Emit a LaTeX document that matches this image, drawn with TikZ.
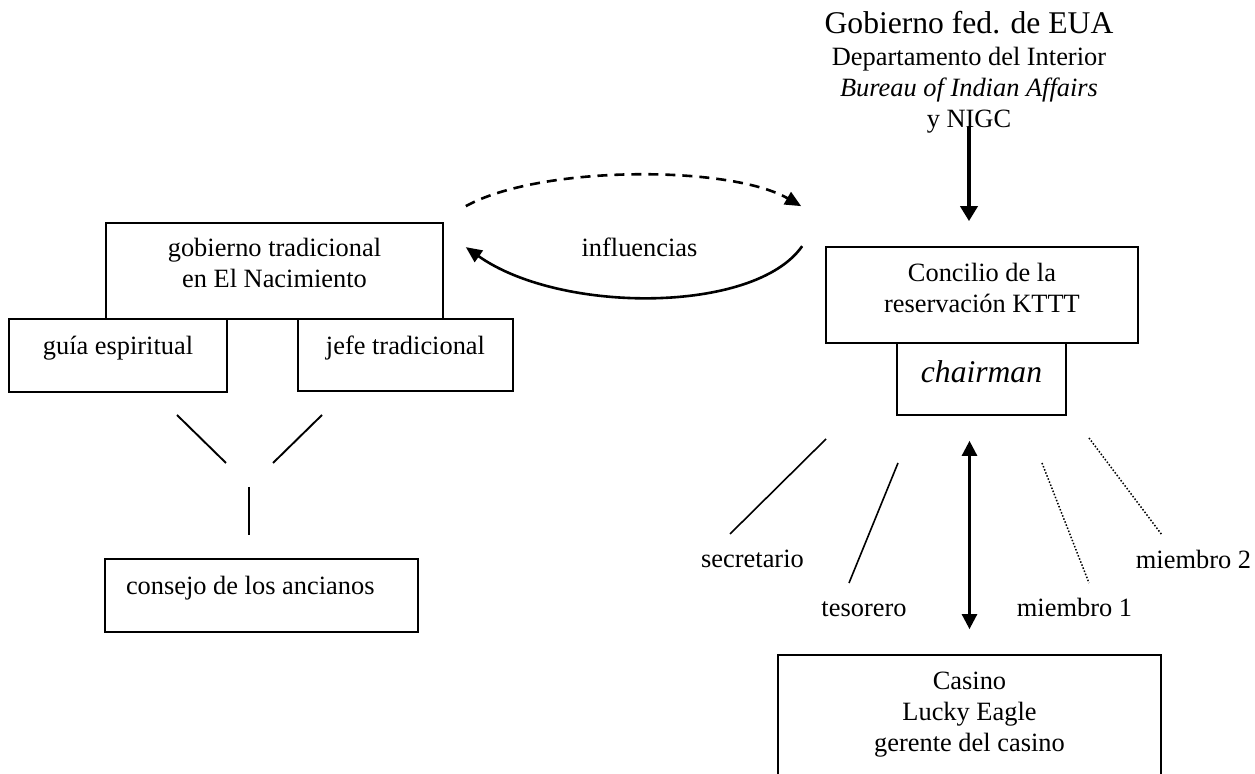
\documentclass[tikz,border=0pt]{standalone}
\usepackage{fontspec}
\setmainfont{Liberation Serif}
\usetikzlibrary{arrows.meta,calc}
% text box: [alignment]{width}{height}{first-baseline depth}{content}
\newcommand{\cellbox}[5][\centering]{\parbox[c][#3][t]{#2}{#1\rule{0pt}{#4}#5\par}}
\begin{document}
\begin{tikzpicture}[x=0.5pt,y=-0.5pt,
  every node/.style={font=\fontsize{13.2pt}{15.5pt}\selectfont, inner sep=0pt},
  big/.style={font=\fontsize{15.8pt}{18pt}\selectfont},
  box/.style={draw, line width=0.85pt, rectangle, anchor=center},
  lbl/.style={anchor=base},
  flow/.style={line width=1.3pt, -{Triangle[length=8pt,width=7pt]}},
  govarrow/.style={line width=2.3pt, -{Triangle[length=7.5pt,width=8.5pt]}},
  dblarrow/.style={line width=1.3pt, {Triangle[length=7.5pt,width=7.5pt]}-{Triangle[length=7.5pt,width=7.5pt]}},
  branch/.style={line width=0.95pt},
  office/.style={line width=0.8pt},
  member/.style={line width=0.75pt, dash pattern=on 0.75pt off 0.9pt}]

\useasboundingbox (0,0) rectangle (1255,774);
\fill[white] (0,0) rectangle (1255,774);

% federal government heading
\node[lbl,big] (fed) at (969,34) {Gobierno fed. de EUA};
\node[lbl] (interior) at (969,65.5) {Departamento del Interior};
\node[lbl] (bia) at (969,97) {\itshape Bureau of Indian Affairs};
\node[lbl] (nigc) at (969,128) {y NIGC};

% traditional government
\node[box] (gob) at (274.5,271) {\cellbox{168.5pt}{48pt}{17pt}{gobierno tradicional\\en El Nacimiento}};
\node[box] (guia) at (118,355.5) {\cellbox{109pt}{36.5pt}{18pt}{guía espiritual}};
\node[box] (jefe) at (405.5,355) {\cellbox{107.5pt}{36pt}{18pt}{jefe tradicional}};
\node[box] (consejo) at (261.5,595.5) {\cellbox[\raggedright]{156.5pt}{36.5pt}{18pt}{\hspace*{10.5pt}consejo de los ancianos}};

% reservation council
\node[box] (concilio) at (982,295) {\cellbox{156pt}{48pt}{17.5pt}{Concilio de la\\reservación KTTT}};
\node[box,big] (chair) at (981.5,379) {\cellbox{84.5pt}{36pt}{20pt}{\itshape chairman}};
\node[box] (casino) at (969.5,720) {\cellbox{191.5pt}{65pt}{17.5pt}{Casino\\Lucky Eagle\\gerente del casino}};

% mutual influences
\draw[flow, dash pattern=on 5pt off 3.5pt]
  ($(gob.north east)+(22,-16)$) .. controls (540,165) and (730,165) .. ($(concilio.north west)+(-24,-40)$);
\draw[flow]
  ($(concilio.north west)+(-23,0)$) .. controls (755,314) and (560,314) .. ($(gob.north east)+(22,25)$);
\node[lbl] (infl) at (639.5,257) {influencias};

% federal oversight
\draw[govarrow] ($(nigc.base)+(0,-1)$) -- ($(nigc.base |- concilio.north)+(0,-25)$);

% council <-> casino
\draw[dblarrow] ($(casino.north |- chair.south)+(0,25)$) -- ($(casino.north)+(0,-25)$);

% elders' council branches
\coordinate (ya1) at (177,415); \coordinate (ya2) at (226,463);
\coordinate (yb1) at (322,415); \coordinate (yb2) at (273,463);
\coordinate (yc1) at (249,487); \coordinate (yc2) at (249,535);
\draw[branch] (ya1) -- (ya2);
\draw[branch] (yb1) -- (yb2);
\draw[branch] (yc1) -- (yc2);

% council officers
\coordinate (sa) at (826,439);  \coordinate (sb) at (730,534);
\coordinate (ta) at (898,463);  \coordinate (tb) at (849,583);
\coordinate (m1a) at (1042,463); \coordinate (m1b) at (1089,583);
\coordinate (m2a) at (1089,438); \coordinate (m2b) at (1162,535);
\draw[office] (sa) -- (sb);
\draw[office] (ta) -- (tb);
\draw[member] (m1a) -- (m1b);
\draw[member] (m2a) -- (m2b);

\node[lbl] (secr) at (752.5,568) {secretario};
\node[lbl] (teso) at (864,617) {tesorero};
\node[lbl] (mem1) at (1074.5,617) {miembro 1};
\node[lbl] (mem2) at (1193.5,569) {miembro 2};
\end{tikzpicture}
\end{document}
